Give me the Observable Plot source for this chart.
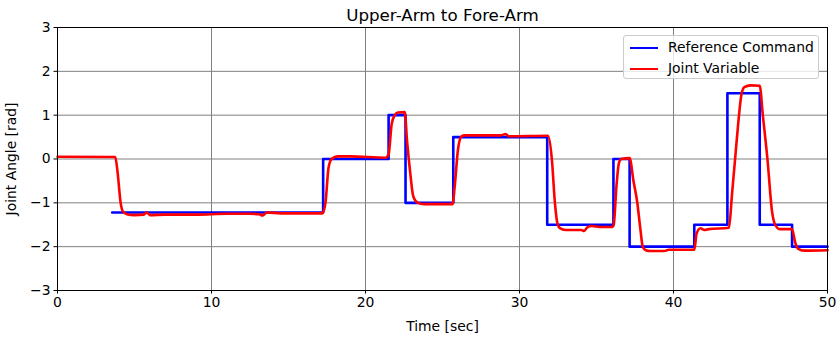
<!DOCTYPE html>
<html>
<head>
<meta charset="utf-8">
<script src="https://cdn.jsdelivr.net/npm/d3@7"></script>
<script src="https://cdn.jsdelivr.net/npm/@observablehq/plot@0.6"></script>
<style>
  html, body { margin: 0; padding: 0; background: white; }
  #wrap { position: relative; width: 840px; height: 337px; font-family: "DejaVu Sans", sans-serif; }
  #legend { position: absolute; left: 623px; top: 35px; width: 196px; height: 44px;
    border: 1px solid #cccccc; border-radius: 3px; background: rgba(255,255,255,0.8); box-sizing: border-box; }
  .entry { position: absolute; left: 0; height: 20px; font-size: 13.9px; color: black; }
  .entry .sw { position: absolute; left: 6px; width: 28px; height: 0; border-top: 2.6px solid; }
  .entry .lb { position: absolute; left: 44px; white-space: nowrap; line-height: 16px; }
</style>
</head>
<body>
<div id="wrap"><div id="legend"></div></div>
<script>
const title = "Upper-Arm to Fore-Arm";
const xLabel = "Time [sec]";
const yLabel = "Joint Angle [rad]";
const xTicks = [0, 10, 20, 30, 40, 50];
const yTicks = [-3, -2, -1, 0, 1, 2, 3];
const seriesNames = ["Reference Command", "Joint Variable"];
const seriesColors = ["#0000ff", "#ff0000"];

// Reference command (step values, held until next time)
const cmdT = [3.55, 17.25, 21.5, 22.6, 25.7, 31.8, 36.1, 37.15, 41.35, 43.5, 45.6, 47.7, 50];
const cmdV = [-1.22, 0, 1, -1, 0.5, -1.5, 0, -2, -1.5, 1.5, -1.5, -2, -2];

// Joint variable
const jointT = [0, 3.75, 3.9, 4.1, 4.25, 4.5, 5.0, 5.6, 5.8, 6.0, 7.0, 9.0, 11.0, 12.5, 13.1, 13.3, 13.6, 14.5, 17.2,
  17.4, 17.6, 17.8, 18.2, 19.0, 21.3, 21.5, 21.7, 21.9, 22.1, 22.55, 22.7, 22.9, 23.1, 23.4, 23.8, 25.65,
  25.8, 26.0, 26.2, 26.4, 28.8, 29.1, 29.3, 31.85, 32.1, 32.3, 32.45, 32.6, 33.0, 34.0, 34.2, 34.4, 34.7, 35.2, 36.05,
  36.12, 36.3, 36.45, 36.6, 37.15, 37.4, 37.65, 37.85, 38.0, 38.2, 38.5, 39.4, 39.7, 41.35,
  41.5, 41.75, 42.0, 42.3, 43.6, 43.8, 44.0, 44.2, 44.4, 44.6, 45.0, 45.6,
  45.8, 46.1, 46.4, 46.6, 46.9, 47.7, 47.9, 48.1, 48.5, 50];
const jointV = [0.05, 0.045, -0.3, -1.0, -1.2, -1.26, -1.28, -1.27, -1.22, -1.28, -1.27, -1.27, -1.25, -1.25, -1.26, -1.29, -1.22, -1.24, -1.24,
  -1.0, -0.2, 0.0, 0.06, 0.06, 0.03, 0.1, 0.8, 1.0, 1.06, 1.07, 0.4, -0.3, -0.85, -1.0, -1.03, -1.03,
  -0.6, 0.2, 0.5, 0.54, 0.54, 0.57, 0.52, 0.53, 0.0, -1.0, -1.45, -1.57, -1.62, -1.62, -1.64, -1.56, -1.53, -1.55, -1.55,
  -1.5, -0.6, -0.1, 0.0, 0.02, -0.5, -1.0, -1.6, -2.0, -2.08, -2.1, -2.1, -2.07, -2.07,
  -1.7, -1.58, -1.62, -1.6, -1.57, -0.8, 0.0, 0.8, 1.45, 1.64, 1.68, 1.67,
  1.0, 0.0, -1.2, -1.5, -1.6, -1.6, -1.9, -2.05, -2.09, -2.08];

const cmd = cmdT.map((t, i) => ({t, v: cmdV[i]}));
const joint = jointT.map((t, i) => ({t, v: jointV[i]}));

const chart = Plot.plot({
  width: 840,
  height: 337,
  marginLeft: 57,
  marginRight: 13,
  marginTop: 27,
  marginBottom: 47,
  style: {fontFamily: "DejaVu Sans", fontSize: "13.9px", background: "white", color: "black"},
  x: {domain: [0, 50]},
  y: {domain: [-3, 3]},
  marks: [
    Plot.gridX(xTicks, {stroke: "#808080", strokeOpacity: 1, strokeWidth: 1}),
    Plot.gridY(yTicks, {stroke: "#808080", strokeOpacity: 1, strokeWidth: 1}),
    Plot.line(cmd, {x: "t", y: "v", curve: "step-after", stroke: seriesColors[0], strokeWidth: 2.6}),
    Plot.line(joint, {x: "t", y: "v", stroke: seriesColors[1], strokeWidth: 2.6, curve: "monotone-x"}),
    Plot.frame({stroke: "black", strokeWidth: 1}),
    Plot.axisX(xTicks, {tickSize: 3.5, tickPadding: 3.5, label: xLabel, labelAnchor: "center", labelArrow: "none", labelOffset: 40}),
    Plot.axisY(yTicks, {tickSize: 3.5, tickPadding: 3.5, label: yLabel, labelAnchor: "center", labelArrow: "none", labelOffset: 51}),
    Plot.text([title], {frameAnchor: "top", dy: -18, fontSize: 16.7, text: d => d})
  ]
});
const wrap = document.getElementById("wrap");
wrap.insertBefore(chart, wrap.firstChild);

const legend = document.getElementById("legend");
seriesNames.forEach((name, i) => {
  const e = document.createElement("div");
  e.className = "entry";
  e.style.top = (3 + i * 21) + "px";
  e.innerHTML = `<div class="sw" style="top:8px;border-color:${seriesColors[i]}"></div><div class="lb">${name}</div>`;
  legend.appendChild(e);
});
</script>
</body>
</html>
